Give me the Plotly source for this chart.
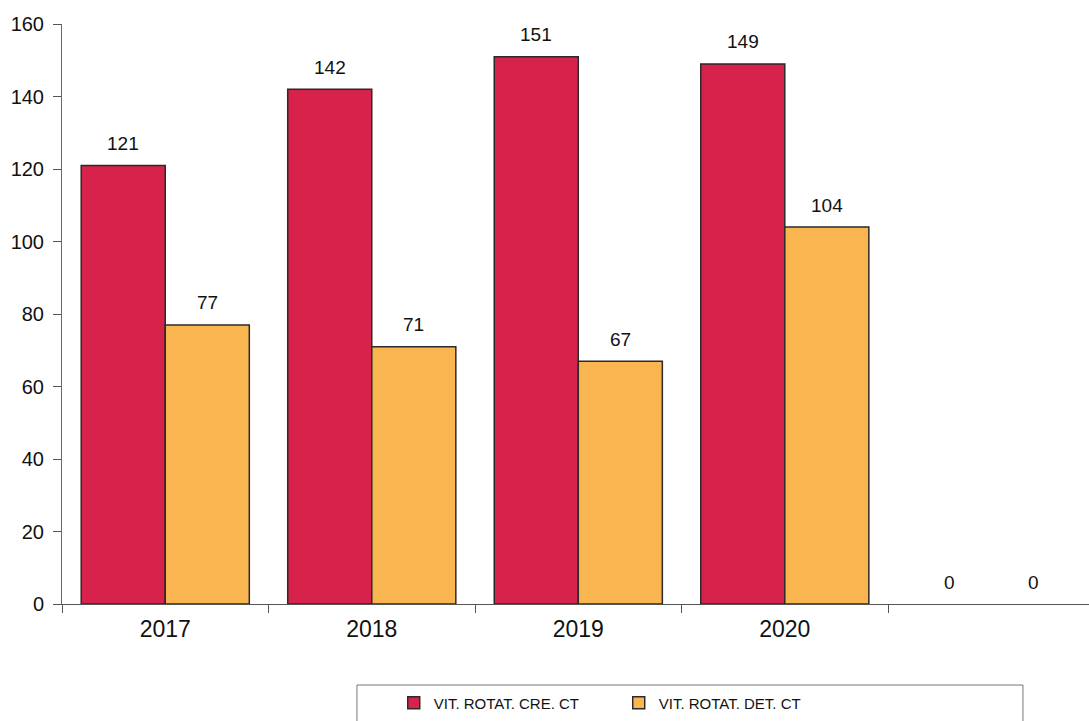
import plotly.graph_objects as go

# Rotation speed figures per year (last slot is an empty year with zeros)
years = ["2017", "2018", "2019", "2020", " "]
cre_ct = [121, 142, 151, 149, 0]
det_ct = [77, 71, 67, 104, 0]

series_names = ["VIT. ROTAT. CRE. CT", "VIT. ROTAT. DET. CT"]
y_ticks = [0, 20, 40, 60, 80, 100, 120, 140, 160]

RED = "#D7234B"
YELLOW = "#F9B650"
FONT = "Liberation Sans, Arial, sans-serif"

fig = go.Figure()
series = [(series_names[0], cre_ct, RED, -1), (series_names[1], det_ct, YELLOW, 1)]
for name, vals, color, side in series:
    fig.add_trace(go.Bar(
        x=years, y=vals, name=name,
        marker=dict(color=color,
                    line=dict(color="#2a2a2a", width=[1.5 if v else 0 for v in vals])),
    ))
    # value labels sit a little above each bar (category index as x position)
    for idx, v in enumerate(vals):
        fig.add_annotation(
            x=idx, y=v, text=str(v), showarrow=False,
            xshift=side * 42, yshift=22, yanchor="middle",
            font=dict(family=FONT, size=19, color="#111"),
        )

fig.update_layout(
    width=1089, height=721,
    margin=dict(l=62, r=0, t=24, b=117),
    paper_bgcolor="white", plot_bgcolor="white",
    barmode="group", bargap=0.186, bargroupgap=0,
    font=dict(family=FONT, color="#111"),
    showlegend=True,
    legend=dict(
        orientation="h", x=0.323, xanchor="left", y=-0.1707, yanchor="middle",
        font=dict(family=FONT, size=15, color="#111"),
        bgcolor="rgba(0,0,0,0)", borderwidth=0,
        entrywidth=180, itemwidth=30,
    ),
    xaxis=dict(
        type="category", categoryorder="array", categoryarray=years,
        range=[-0.5, 4.473], showgrid=False, showline=True,
        linecolor="#555", linewidth=1,
        ticks="outside", tickson="boundaries", ticklen=8, tickcolor="#555",
        tickfont=dict(family=FONT, size=23, color="#111"),
        ticklabelstandoff=4,
    ),
    yaxis=dict(
        range=[0, 160], tickvals=y_ticks, showgrid=False, zeroline=False,
        showline=True, linecolor="#666", linewidth=1,
        ticks="outside", ticklen=8, tickcolor="#555",
        tickfont=dict(family=FONT, size=20, color="#111"),
        ticklabelstandoff=5,
    ),
    shapes=[dict(
        type="rect", xref="paper", yref="paper",
        x0=0.2872, x1=0.9357, y0=-0.2086, y1=-0.1397,
        line=dict(color="#777", width=1), fillcolor="rgba(0,0,0,0)",
    )],
)

fig.write_html("out.html")
